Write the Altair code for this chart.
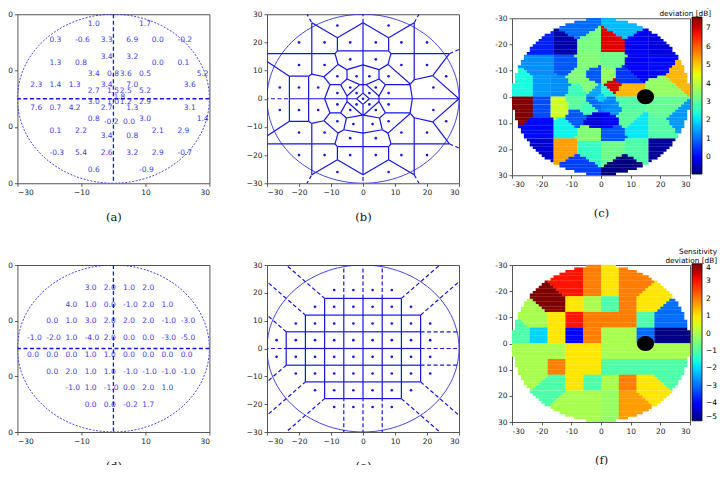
import math
import altair as alt
import pandas as pd

# ---------------- data ----------------
# Octopus-like test grid (panels a, b, c)
OCT_X = [-8, 8,
         -20, -12, -4, 4, 12, 20,
         -4, 4,
         -20, -12, 12, 20,
         -8, -2, 2, 8, 26,
         -26, -20, -14, -4, 4, 22,
         -8, -2, 2, 8,
         0,
         -8, -2, 2, 8,
         -26, -20, -14, -4, 4, 22,
         -8, -3, 3, 8, 26,
         -20, -12, 12, 20,
         -4, 4,
         -20, -12, -4, 4, 12, 20,
         -8, 8]
OCT_Y = [26, 26,
         20, 20, 20, 20, 20, 20,
         14, 14,
         12, 12, 12, 12,
         8, 8, 8, 8, 8,
         4, 4, 4, 4, 4, 4,
         2, 2, 2, 2,
         0,
         -2, -2, -2, -2,
         -4, -4, -4, -4, -4, -4,
         -8, -9, -9, -8, -8,
         -12, -12, -12, -12,
         -14, -14,
         -20, -20, -20, -20, -20, -20,
         -26, -26]
OCT_VAL = [1.0, 1.7,
           0.3, -0.6, 3.3, 6.9, 0.0, -0.2,
           3.4, 3.2,
           1.3, 0.8, 0.0, 0.1,
           3.4, 0.8, 3.6, 0.5, 5.2,
           2.3, 1.4, 1.3, 3.4, 7.0, 3.6,
           2.7, 1.5, 2.5, 5.2,
           1.8,
           3.0, 1.0, 1.2, 2.9,
           7.6, 0.7, 4.2, 2.7, 1.3, 3.1,
           0.8, -0.2, 0.0, 3.0, 1.4,
           0.1, 2.2, 2.1, 2.9,
           3.4, 0.8,
           -0.3, 5.4, 2.6, 3.2, 2.9, -0.7,
           0.6, -0.9]

# 24-2 like grid (panels d, e, f)
G24_X = [-9, -3, 3, 9,
         -15, -9, -3, 3, 9, 15,
         -21, -15, -9, -3, 3, 9, 15, 21,
         -27, -21, -15, -9, -3, 3, 9, 15, 21,
         -27, -21, -15, -9, -3, 3, 9, 15, 21,
         -21, -15, -9, -3, 3, 9, 15, 21,
         -15, -9, -3, 3, 9, 15,
         -9, -3, 3, 9]
G24_Y = [21, 21, 21, 21,
         15, 15, 15, 15, 15, 15,
         9, 9, 9, 9, 9, 9, 9, 9,
         3, 3, 3, 3, 3, 3, 3, 3, 3,
         -3, -3, -3, -3, -3, -3, -3, -3, -3,
         -9, -9, -9, -9, -9, -9, -9, -9,
         -15, -15, -15, -15, -15, -15,
         -21, -21, -21, -21]
G24_VAL = [3.0, 2.0, 1.0, 2.0,
           4.0, 1.0, 0.0, -1.0, 2.0, 1.0,
           0.0, 1.0, 3.0, 2.0, 2.0, 2.0, -1.0, -3.0,
           -1.0, -2.0, 1.0, -4.0, 2.0, 0.0, 0.0, -3.0, -5.0,
           0.0, 0.0, 0.0, 1.0, 1.0, 0.0, 0.0, 0.0, 0.0,
           0.0, 2.0, 1.0, 1.0, -1.0, -1.0, -1.0, -1.0,
           -1.0, 1.0, -1.0, 0.0, 2.0, 1.0,
           0.0, 0.0, -0.2, 1.7]

TICKS = [-30, -20, -10, 0, 10, 20, 30]
RADIUS = 30
BLIND_X, BLIND_Y = 15, 0
CAPTIONS = ["(a)", "(b)", "(c)", "(d)", "(e)", "(f)"]
CBAR_TITLE = ["Sensitivity", "deviation [dB]"]
CBAR_TICKS_C = [0, 1, 2, 3, 4, 5, 6, 7]
CBAR_TICKS_F = [-5, -4, -3, -2, -1, 0, 1, 2, 3, 4]

# jet colormap stops
JET_T = [0.0, 0.11, 0.34, 0.375, 0.64, 0.66, 0.89, 0.91, 1.0]
JET_C = ["#000080", "#0000ff", "#00dbff", "#15ffe2", "#eeff08", "#ffec00",
         "#ff1300", "#e80000", "#800000"]

BLUE = "#1515e6"

# ---------------- geometry helpers ----------------
def clip(poly, a, b, c):
    out = []
    n = len(poly)
    for i in range(n):
        p = poly[i]
        q = poly[(i + 1) % n]
        fp = a * p[0] + b * p[1] - c
        fq = a * q[0] + b * q[1] - c
        if fp <= 0:
            out.append(p)
        if (fp < 0 < fq) or (fq < 0 < fp):
            t = fp / (fp - fq)
            out.append((p[0] + t * (q[0] - p[0]), p[1] + t * (q[1] - p[1])))
    return out


def voronoi_edges(xs, ys, B=500.0):
    pts = list(zip(xs, ys))
    edges = {}
    for i, (xi, yi) in enumerate(pts):
        poly = [(-B, -B), (B, -B), (B, B), (-B, B)]
        for j, (xj, yj) in enumerate(pts):
            if i == j:
                continue
            a, b = xj - xi, yj - yi
            c = (xj * xj + yj * yj - xi * xi - yi * yi) / 2.0
            poly = clip(poly, a, b, c)
        n = len(poly)
        for k in range(n):
            p, q = poly[k], poly[(k + 1) % n]
            if math.hypot(q[0] - p[0], q[1] - p[1]) < 1e-6:
                continue
            on_p = abs(abs(p[0]) - B) < 1e-6 or abs(abs(p[1]) - B) < 1e-6
            on_q = abs(abs(q[0]) - B) < 1e-6 or abs(abs(q[1]) - B) < 1e-6
            if on_p and on_q:
                continue
            key = tuple(sorted([(round(p[0], 4), round(p[1], 4)),
                                (round(q[0], 4), round(q[1], 4))]))
            edges[key] = on_p or on_q
    rows = [dict(x=k[0][0], y=k[0][1], x2=k[1][0], y2=k[1][1], dashed=v)
            for k, v in edges.items()]
    return pd.DataFrame(rows)


OVERLAP = 0.08  # tiny overlap between raster cells to hide anti-aliasing seams


def raster(xs, ys, vals):
    rows = []
    n = len(xs)
    for iy in range(60):
        yc = 29.5 - iy
        run = None
        for ix in range(60):
            xc = -29.5 + ix
            if xc * xc + yc * yc > RADIUS * RADIUS:
                if run:
                    rows.append(run)
                    run = None
                continue
            best = min(range(n), key=lambda k: (xs[k] - xc) ** 2 + (ys[k] - yc) ** 2)
            v = vals[best]
            if run and run["v"] == v:
                run["x2"] = xc + 0.5 + OVERLAP
            else:
                if run:
                    rows.append(run)
                run = dict(x=xc - 0.5, x2=xc + 0.5 + OVERLAP,
                           y=-(yc - 0.5), y2=-(yc + 0.5) - OVERLAP, v=v)
        if run:
            rows.append(run)
    return pd.DataFrame(rows)


def circle_df():
    ts = list(range(0, 361, 3))
    return pd.DataFrame({"t": ts,
                         "x": [RADIUS * math.cos(math.radians(t)) for t in ts],
                         "y": [RADIUS * math.sin(math.radians(t)) for t in ts]})


HYPHEN = "replace(datum.label, '\u2212', '-')"


def xenc(caption, tp, hyphen=False):
    ax = dict(values=TICKS, title=caption, titlePadding=tp)
    if hyphen:
        ax["labelExpr"] = HYPHEN
    return alt.X("x:Q", scale=alt.Scale(domain=[-30, 30], nice=False, zero=False),
                 axis=alt.Axis(**ax))


def yenc(reverse=False):
    ax = dict(values=TICKS, title=None)
    if reverse:
        ax["labelExpr"] = HYPHEN
    return alt.Y("y:Q", scale=alt.Scale(domain=[-30, 30], nice=False, zero=False,
                                        reverse=reverse),
                 axis=alt.Axis(**ax))


ZERO = pd.DataFrame({"z": [0]})


def text_panel(xs, ys, vals, caption, w, h):
    df = pd.DataFrame({"x": xs, "y": ys, "label": [f"{v:.1f}" for v in vals]})
    X, Y = xenc(caption, 16), yenc()
    circ = alt.Chart(circle_df()).mark_line(
        color=BLUE, strokeWidth=0.8, strokeDash=[2, 1.5], clip=True
    ).encode(x=X, y=Y, order="t:Q")
    vline = alt.Chart(ZERO).mark_rule(color=BLUE, strokeWidth=1.3,
                                      strokeDash=[4, 2.5]).encode(x=alt.datum(0))
    hline = alt.Chart(ZERO).mark_rule(color=BLUE, strokeWidth=1.3,
                                      strokeDash=[4, 2.5]).encode(y=alt.datum(0))
    txt = alt.Chart(df).mark_text(
        align="left", baseline="alphabetic", fontSize=7.5, font="DejaVu Sans",
        color=BLUE, opacity=0.85
    ).encode(x=X, y=Y, text="label:N")
    return alt.layer(circ, vline, hline, txt).properties(width=w, height=h)


def voronoi_panel(xs, ys, caption, w, h):
    e = voronoi_edges(xs, ys)
    solid = e[~e["dashed"]].reset_index(drop=True)
    dashed = e[e["dashed"]].reset_index(drop=True)
    pts = pd.DataFrame({"x": xs, "y": ys})
    X, Y = xenc(caption, 16), yenc()
    l1 = alt.Chart(solid).mark_rule(color=BLUE, strokeWidth=1.2, clip=True).encode(
        x=X, y=Y, x2="x2:Q", y2="y2:Q")
    l2 = alt.Chart(dashed).mark_rule(color=BLUE, strokeWidth=1.2, strokeDash=[4, 2.5],
                                     clip=True).encode(x=X, y=Y, x2="x2:Q", y2="y2:Q")
    circ = alt.Chart(circle_df()).mark_line(color=BLUE, strokeWidth=0.8, clip=True).encode(
        x=X, y=Y, order="t:Q")
    dots = alt.Chart(pts).mark_circle(color=BLUE, size=7, opacity=1).encode(x=X, y=Y)
    return alt.layer(l1, l2, circ, dots).properties(width=w, height=h)


def heat_panel(xs, ys, vals, caption, w, h, ticks, lx):
    rdf = raster(xs, ys, vals)
    vmin, vmax = min(vals), max(vals)
    dom = [vmin + t * (vmax - vmin) for t in JET_T]
    cscale = alt.Scale(domain=dom, range=JET_C, interpolate="rgb")
    X, Y = xenc(caption, 20, hyphen=True), yenc(reverse=True)
    legend = alt.Legend(
        type="gradient",
        title=CBAR_TITLE, orient="none", legendX=lx, legendY=-17,
        direction="vertical", gradientLength=h, gradientThickness=10,
        gradientStrokeColor="black", gradientStrokeWidth=0.8, values=ticks,
        labelFontSize=7.5, labelFont="DejaVu Sans", labelOffset=4, labelOverlap=False,
        titleFontSize=7.3, titleFont="DejaVu Sans", titleFontWeight="normal",
        titleLineHeight=8.5, titleAnchor="end", titleAlign="right",
        titlePadding=0, titleLimit=300)
    rects = alt.Chart(rdf).mark_rect().encode(
        x=X, x2="x2:Q", y=Y, y2="y2:Q",
        color=alt.Color("v:Q", scale=cscale, legend=legend))
    bs = pd.DataFrame({"x": [BLIND_X], "y": [-BLIND_Y]})
    blind = alt.Chart(bs).mark_point(
        shape="M-1,0A1,0.88,0,1,1,1,0A1,0.88,0,1,1,-1,0Z",
        filled=True, color="black", opacity=1, size=289, strokeWidth=0
    ).encode(x=X, y=Y)
    return alt.layer(rects, blind).properties(width=w, height=h)


pa = text_panel(OCT_X, OCT_Y, OCT_VAL, CAPTIONS[0], 192, 169)
pb = voronoi_panel(OCT_X, OCT_Y, CAPTIONS[1], 192, 169)
pc = heat_panel(OCT_X, OCT_Y, OCT_VAL, CAPTIONS[2], 178, 157, CBAR_TICKS_C, 178 - 31)
pd_ = text_panel(G24_X, G24_Y, G24_VAL, CAPTIONS[3], 192, 167)
pe = voronoi_panel(G24_X, G24_Y, CAPTIONS[4], 192, 167)
pf = heat_panel(G24_X, G24_Y, G24_VAL, CAPTIONS[5], 178, 157, CBAR_TICKS_F, 178 - 25)

chart = alt.concat(
    pa, pb, pc, pd_, pe, pf, columns=3,
    spacing={"row": 23, "column": 34}, align="each", center=True
).properties(
    padding={"left": -12, "top": -8, "right": 0, "bottom": -8}
).resolve_scale(color="independent").resolve_legend(
    color="independent"
).configure_view(
    stroke="#555", strokeWidth=1
).configure_axis(
    grid=False, domain=False, tickColor="#333", tickSize=3, tickWidth=0.8,
    labelFontSize=7.5, labelFont="DejaVu Sans", labelColor="#222", labelPadding=2,
    titleFont="DejaVu Serif", titleFontSize=11.5, titleFontWeight="normal",
    titleColor="#111"
)

chart.save("out.html", embed_options={"renderer": "svg", "actions": False})
